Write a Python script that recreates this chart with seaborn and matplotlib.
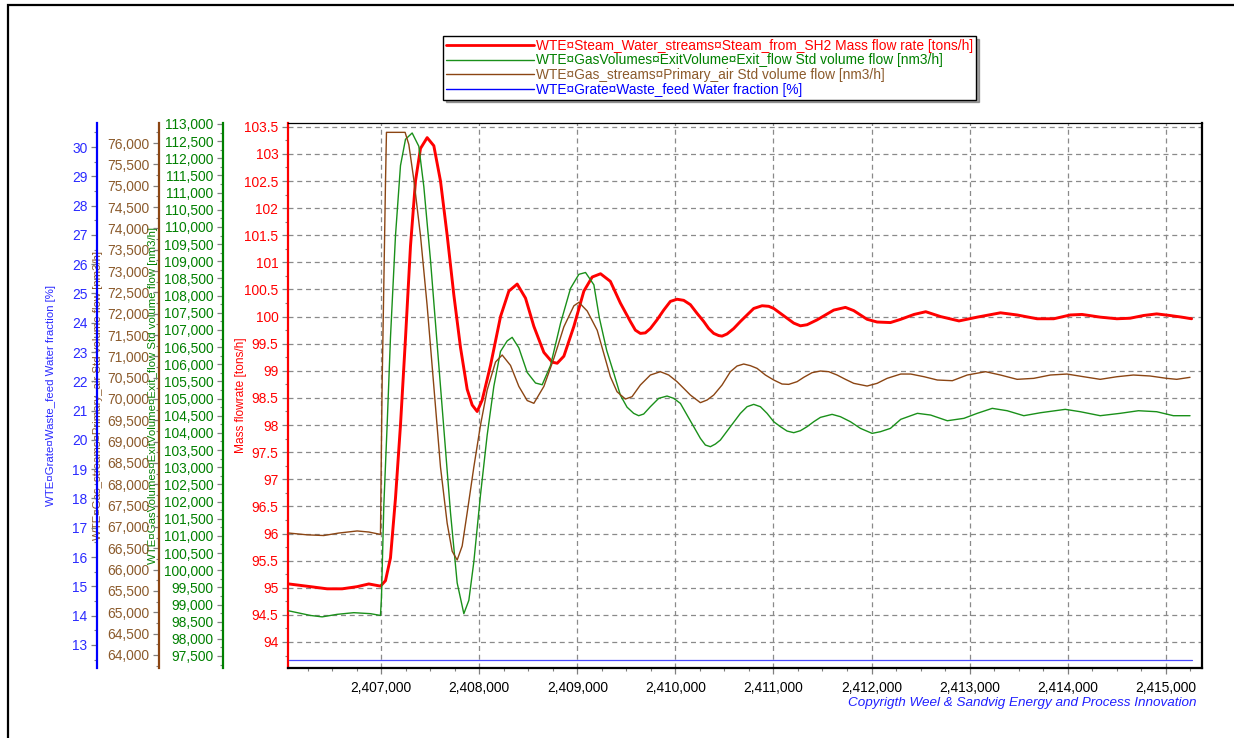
import numpy as np
import pandas as pd
import matplotlib
matplotlib.use("Agg")
import matplotlib.pyplot as plt
import matplotlib.ticker as mticker
from matplotlib.lines import Line2D
from matplotlib.patches import Rectangle
import seaborn as sns

# ---------------- data ----------------
t_red = [2406058, 2406279, 2406449, 2406602, 2406755, 2406874, 2406993, 2407044, 2407095, 2407146,
         2407197, 2407248, 2407299, 2407350, 2407401, 2407469, 2407537, 2407605, 2407673, 2407741,
         2407809, 2407877, 2407928, 2407979, 2408030, 2408115, 2408217, 2408302, 2408387, 2408472,
         2408557, 2408659, 2408744, 2408795, 2408863, 2408965, 2409067, 2409152, 2409237, 2409337,
         2409439, 2409541, 2409592, 2409643, 2409694, 2409745, 2409813, 2409881, 2409949, 2410017,
         2410085, 2410153, 2410221, 2410289, 2410340, 2410391, 2410442, 2410476, 2410527, 2410595,
         2410663, 2410731, 2410799, 2410884, 2410952, 2411003, 2411071, 2411139, 2411207, 2411275,
         2411343, 2411445, 2411530, 2411615, 2411734, 2411819, 2411887, 2411955, 2412057, 2412193,
         2412298, 2412434, 2412553, 2412705, 2412892, 2413078, 2413315, 2413485, 2413688, 2413858,
         2414027, 2414146, 2414332, 2414502, 2414637, 2414773, 2414908, 2415044, 2415163, 2415264]
steam_mass_flow = [95.07, 95.02, 94.98, 94.98, 95.02, 95.07, 95.03, 95.13, 95.55, 96.65,
                   98.0, 99.6, 101.3, 102.5, 103.1, 103.3, 103.15, 102.5, 101.5, 100.4,
                   99.43, 98.66, 98.37, 98.25, 98.46, 99.1, 100.0, 100.47, 100.6, 100.34,
                   99.82, 99.34, 99.16, 99.14, 99.27, 99.82, 100.47, 100.73, 100.79, 100.65,
                   100.25, 99.91, 99.75, 99.69, 99.70, 99.78, 99.94, 100.12, 100.28, 100.32,
                   100.30, 100.22, 100.06, 99.91, 99.78, 99.69, 99.65, 99.64, 99.68, 99.78,
                   99.91, 100.03, 100.15, 100.20, 100.19, 100.15, 100.06, 99.97, 99.88, 99.83,
                   99.85, 99.94, 100.03, 100.12, 100.17, 100.11, 100.03, 99.95, 99.90, 99.89,
                   99.95, 100.04, 100.09, 100.0, 99.92, 99.99, 100.07, 100.03, 99.96, 99.96,
                   100.03, 100.04, 99.99, 99.96, 99.97, 100.02, 100.05, 100.02, 99.99, 99.96]

t_green = [2406058, 2406279, 2406398, 2406551, 2406721, 2406891, 2406993, 2407003, 2407027, 2407061,
           2407095, 2407146, 2407197, 2407248, 2407316, 2407384, 2407435, 2407503, 2407571, 2407639,
           2407707, 2407775, 2407843, 2407894, 2407945, 2408013, 2408081, 2408149, 2408217, 2408285,
           2408336, 2408404, 2408489, 2408574, 2408642, 2408727, 2408829, 2408931, 2409016, 2409084,
           2409169, 2409225, 2409300, 2409371, 2409439, 2409507, 2409575, 2409626, 2409677, 2409745,
           2409830, 2409915, 2409983, 2410051, 2410119, 2410187, 2410255, 2410306, 2410357, 2410408,
           2410459, 2410561, 2410663, 2410731, 2410799, 2410867, 2410935, 2411003, 2411071, 2411139,
           2411207, 2411275, 2411343, 2411411, 2411479, 2411598, 2411683, 2411785, 2411887, 2412006,
           2412091, 2412193, 2412298, 2412468, 2412603, 2412773, 2412942, 2413078, 2413231, 2413383,
           2413553, 2413722, 2413976, 2414129, 2414332, 2414536, 2414722, 2414908, 2415078, 2415248]
exit_flow = [98815, 98681, 98640, 98713, 98762, 98733, 98681, 99200, 101881, 104229,
             106784, 109745, 111788, 112554, 112738, 112350, 111176, 109031, 106578, 104127,
             101673, 99630, 98733, 99121, 100245, 102198, 103935, 105357, 106374, 106680,
             106784, 106476, 105762, 105453, 105403, 105966, 107193, 108212, 108620, 108673,
             108315, 107350, 106400, 105750, 105100, 104750, 104569, 104501, 104550, 104763,
             105006, 105074, 105006, 104860, 104520, 104181, 103841, 103646, 103598, 103675,
             103792, 104181, 104569, 104763, 104831, 104763, 104569, 104326, 104181, 104054,
             104006, 104064, 104181, 104326, 104452, 104540, 104472, 104326, 104132, 103986,
             104035, 104132, 104395, 104570, 104520, 104354, 104424, 104570, 104715, 104646,
             104501, 104587, 104686, 104617, 104501, 104570, 104646, 104617, 104501, 104501]

t_brown = [2406058, 2406245, 2406415, 2406568, 2406755, 2406874, 2406993, 2407003, 2407010, 2407027,
           2407044, 2407054, 2407244, 2407282, 2407333, 2407401, 2407469, 2407537, 2407605, 2407673,
           2407724, 2407775, 2407826, 2407877, 2407945, 2408013, 2408081, 2408166, 2408234, 2408319,
           2408404, 2408489, 2408557, 2408659, 2408761, 2408863, 2408965, 2409016, 2409101, 2409203,
           2409337, 2409405, 2409490, 2409558, 2409643, 2409745, 2409847, 2409932, 2410017, 2410085,
           2410153, 2410255, 2410323, 2410391, 2410476, 2410561, 2410629, 2410697, 2410765, 2410833,
           2410918, 2411003, 2411088, 2411156, 2411241, 2411309, 2411394, 2411479, 2411564, 2411649,
           2411734, 2411819, 2411955, 2412057, 2412159, 2412298, 2412400, 2412536, 2412671, 2412824,
           2412976, 2413163, 2413315, 2413485, 2413654, 2413824, 2413993, 2414163, 2414332, 2414502,
           2414671, 2414841, 2415010, 2415112, 2415248]
primary_air = [66858, 66816, 66800, 66858, 66907, 66882, 66826, 69000, 70374, 72676,
               75062, 76250, 76250, 75965, 75142, 73827, 72184, 70295, 68405, 67088,
               66432, 66226, 66554, 67334, 68405, 69390, 70210, 70867, 71031, 70787,
               70295, 69964, 69899, 70295, 70951, 71692, 72184, 72266, 72062, 71610,
               70523, 70171, 69999, 70054, 70328, 70562, 70640, 70562, 70406, 70250,
               70093, 69914, 69976, 70093, 70328, 70640, 70773, 70820, 70781, 70718,
               70562, 70445, 70351, 70343, 70406, 70508, 70617, 70656, 70640, 70562,
               70461, 70367, 70304, 70367, 70484, 70585, 70585, 70522, 70445, 70429,
               70562, 70640, 70562, 70461, 70484, 70562, 70585, 70522, 70461, 70522,
               70562, 70539, 70484, 70461, 70508]

t_blue = [2406058, 2408000, 2411000, 2415264]
water_fraction = [12.5, 12.5, 12.5, 12.5]

x_ticks = [2407000, 2408000, 2409000, 2410000, 2411000, 2412000, 2413000, 2414000, 2415000]

labels = ["WTE\u00a4Steam_Water_streams\u00a4Steam_from_SH2 Mass flow rate [tons/h]",
          "WTE\u00a4GasVolumes\u00a4ExitVolume\u00a4Exit_flow Std volume flow [nm3/h]",
          "WTE\u00a4Gas_streams\u00a4Primary_air Std volume flow [nm3/h]",
          "WTE\u00a4Grate\u00a4Waste_feed Water fraction [%]"]
red_axis_label = "Mass flowrate [tons/h]"
copyright_text = "Copyrigth Weel & Sandvig Energy and Process Innovation"

# ---------------- styling ----------------
sns.set_style("white")
plt.rcParams["font.family"] = ["Liberation Sans", "DejaVu Sans"]

C_RED = "#ff0000"
C_GREEN = "#008000"
C_GREEN_LINE = "#1a901a"
C_BROWN = "#8b4513"
C_BROWN_TXT = "#8b5a2b"
C_BLUE = "#0000ff"
C_BLUE_LINE = "#4a4aff"
TICK_GRAY = "#808080"

W, H = 1234, 738
fig = plt.figure(figsize=(W / 100, H / 100), dpi=100)
left, right, top, bottom = 288, 1202, 123, 668
ax = fig.add_axes([left / W, 1 - bottom / H, (right - left) / W, (bottom - top) / H])
axw = right - left

def thousands(v, pos):
    return f"{v:,.0f}"

def plain(v, pos):
    return f"{v:g}"

# main (red) axis
sns.lineplot(x=t_red, y=steam_mass_flow, ax=ax, color=C_RED, linewidth=2.1,
             estimator=None, sort=False, legend=False, zorder=3)
ax.set_xlim(2406050, 2415370)
ax.set_ylim(93.52, 103.57)
ax.xaxis.set_major_locator(mticker.FixedLocator(x_ticks))
ax.xaxis.set_minor_locator(mticker.MultipleLocator(250))
ax.xaxis.set_major_formatter(mticker.FuncFormatter(thousands))
ax.yaxis.set_major_locator(mticker.MultipleLocator(0.5))
ax.yaxis.set_minor_locator(mticker.MultipleLocator(0.25))
ax.yaxis.set_major_formatter(mticker.FuncFormatter(plain))
ax.grid(True, which="major", color="#8a8a8a", linestyle=(0, (4, 3)), linewidth=0.9)
ax.set_axisbelow(True)
ax.spines["top"].set_color("black"); ax.spines["top"].set_linewidth(0.9)
for s in ["right", "bottom"]:
    ax.spines[s].set_color("black"); ax.spines[s].set_linewidth(1.6)
ax.spines["left"].set_color(C_RED); ax.spines["left"].set_linewidth(1.6)
ax.tick_params(axis="both", which="major", direction="out", length=4, width=0.9,
               color=TICK_GRAY, labelsize=9.9, pad=3)
ax.tick_params(axis="both", which="minor", direction="out", length=2.5, width=0.8,
               color=TICK_GRAY)
ax.tick_params(axis="y", labelcolor=C_RED)
ax.tick_params(axis="x", labelcolor="black", pad=5)
ax.tick_params(axis="x", which="both", bottom=True)
ax.tick_params(axis="y", which="both", left=True)
ax.set_xlabel("")
ax.set_ylabel(red_axis_label, color=C_RED, fontsize=8.6, va="center")
ax.yaxis.set_label_coords((241 - left) / axw, 0.5)

def make_left_axis(x_px, color, txtcolor, ylim, major, minor, label, label_x_px):
    a = ax.twinx()
    a.patch.set_visible(False)
    a.yaxis.set_label_position("left")
    a.yaxis.set_ticks_position("left")
    for s in ["top", "right", "bottom"]:
        a.spines[s].set_visible(False)
    a.spines["left"].set_visible(True)
    a.spines["left"].set_position(("axes", (x_px - left) / axw))
    a.spines["left"].set_color(color)
    a.spines["left"].set_linewidth(1.6)
    a.set_ylim(*ylim)
    a.yaxis.set_major_locator(mticker.MultipleLocator(major))
    a.yaxis.set_minor_locator(mticker.MultipleLocator(minor))
    a.tick_params(axis="y", which="major", direction="out", length=4, width=0.9,
                  color=TICK_GRAY, labelcolor=txtcolor, labelsize=9.9, pad=3,
                  left=True, right=False, labelleft=True, labelright=False)
    a.tick_params(axis="y", which="minor", direction="out", length=2.5, width=0.8,
                  color=TICK_GRAY, left=True, right=False)
    a.set_ylabel(label, color=txtcolor, fontsize=8.2, va="center")
    a.yaxis.set_label_coords((label_x_px - left) / axw, 0.5)
    return a

ax_green = make_left_axis(223, C_GREEN, C_GREEN, (97150, 113029), 500, 250, labels[1], 153)
ax_green.yaxis.set_major_formatter(mticker.FuncFormatter(thousands))
ax_brown = make_left_axis(159, C_BROWN, C_BROWN_TXT, (63695, 76469), 500, 250, labels[2], 98)
ax_brown.yaxis.set_major_formatter(mticker.FuncFormatter(thousands))
ax_blue = make_left_axis(97, C_BLUE, "#2a2aff", (12.21, 30.82), 1, 0.5, labels[3], 51)
ax_blue.yaxis.set_major_formatter(mticker.FuncFormatter(plain))

sns.lineplot(x=t_green, y=exit_flow, ax=ax_green, color=C_GREEN_LINE, linewidth=1.0,
             estimator=None, sort=False, legend=False)
sns.lineplot(x=t_brown, y=primary_air, ax=ax_brown, color=C_BROWN, linewidth=1.0,
             estimator=None, sort=False, legend=False)
sns.lineplot(x=t_blue, y=water_fraction, ax=ax_blue, color=C_BLUE_LINE, linewidth=0.9,
             estimator=None, sort=False, legend=False)
for a in (ax_green, ax_brown, ax_blue):
    a.set_xlim(2406050, 2415370)
    a.set_xlabel("")

# legend
handles = [Line2D([], [], color=C_RED, lw=2.0),
           Line2D([], [], color=C_GREEN_LINE, lw=1.0),
           Line2D([], [], color=C_BROWN, lw=1.0),
           Line2D([], [], color=C_BLUE, lw=1.0)]
leg = fig.legend(handles, labels, loc="upper left", bbox_to_anchor=(443 / W, 1 - 36 / H),
                 frameon=True, fancybox=False, shadow=True, edgecolor="black",
                 fontsize=9.9, handlelength=6.4, handletextpad=0.2, borderpad=0.2,
                 labelspacing=0.05, borderaxespad=0)
leg.get_frame().set_linewidth(1.0)
for txt, c in zip(leg.get_texts(), [C_RED, C_GREEN, C_BROWN_TXT, C_BLUE]):
    txt.set_color(c)

# figure frame and copyright
fig.patches.append(Rectangle((8 / W, -0.2), 2.0, 1.2 - 5 / H, transform=fig.transFigure,
                             fill=False, edgecolor="black", linewidth=1.6, zorder=0))
fig.text(1196 / W, 1 - 703 / H, copyright_text, ha="right", va="center",
         fontsize=9.7, style="italic", color="#2020ff")

fig.savefig("out.png", dpi=100)
